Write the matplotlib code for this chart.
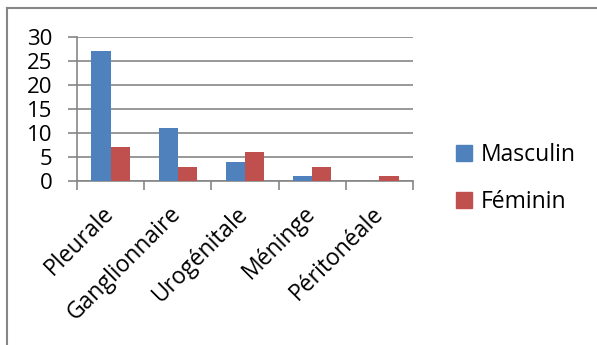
import matplotlib
matplotlib.use("Agg")
import matplotlib.pyplot as plt
import numpy as np
from matplotlib.lines import Line2D

categories = ["Pleurale", "Ganglionnaire", "Urogénitale", "Méninge", "Péritonéale"]
masculin = [27, 11, 4, 1, 0]
feminin = [7, 3, 6, 3, 1]
series_names = ["Masculin", "Féminin"]
y_ticks = [0, 5, 10, 15, 20, 25, 30]

blue = "#4F81BD"
red = "#C0504D"
gray = "#868686"

plt.rcParams["font.family"] = ["Open Sans", "DejaVu Sans"]

fig = plt.figure(figsize=(5.97, 3.45), dpi=100)
ax = fig.add_axes([77 / 597, 1 - 181 / 345, (413 - 77) / 597, (181 - 37) / 345])

x = np.arange(len(categories))
w = 1 / 3.5
ax.bar(x - w / 2, masculin, w, color=blue, label=series_names[0], zorder=3)
ax.bar(x + w / 2, feminin, w, color=red, label=series_names[1], zorder=3)

ax.set_xlim(-0.5, len(categories) - 0.5)
ax.set_ylim(0, 30)
ax.set_yticks(y_ticks)
ax.yaxis.grid(True, color=gray, linewidth=1.2, zorder=0)
ax.set_axisbelow(True)

for s in ["top", "right"]:
    ax.spines[s].set_visible(False)
for s in ["left", "bottom"]:
    ax.spines[s].set_color(gray)
    ax.spines[s].set_linewidth(1.2)

ax.tick_params(axis="y", length=6.5, width=1.2, color=gray, pad=11, labelsize=16)
ax.set_xticks(np.arange(len(categories) + 1) - 0.5, minor=True)
ax.set_xticks(x)
ax.tick_params(axis="x", which="minor", length=6.5, width=1.2, color=gray)
ax.tick_params(axis="x", which="major", length=0, pad=21)
ax.set_xticklabels(categories, rotation=45, ha="right", va="center",
                   rotation_mode="anchor", fontsize=16.5)

handles = [Line2D([], [], marker="s", linestyle="none", markersize=11,
                  markerfacecolor=c, markeredgecolor=c) for c in (blue, red)]
fig.legend(handles, series_names, loc="upper left",
           bbox_to_anchor=(430 / 597, 1 - 122 / 345), frameon=False,
           fontsize=16.5, handletextpad=0.1, labelspacing=1.0,
           handlelength=1.2)

# outer chart-area border (left and top edges)
fig.add_artist(Line2D([7 / 597, 7 / 597], [0, 1 - 8 / 345], color=gray,
                      linewidth=1.5, transform=fig.transFigure))
fig.add_artist(Line2D([7 / 597, 1], [1 - 8 / 345, 1 - 8 / 345], color=gray,
                      linewidth=1.5, transform=fig.transFigure))

fig.savefig("out.png", dpi=100)
